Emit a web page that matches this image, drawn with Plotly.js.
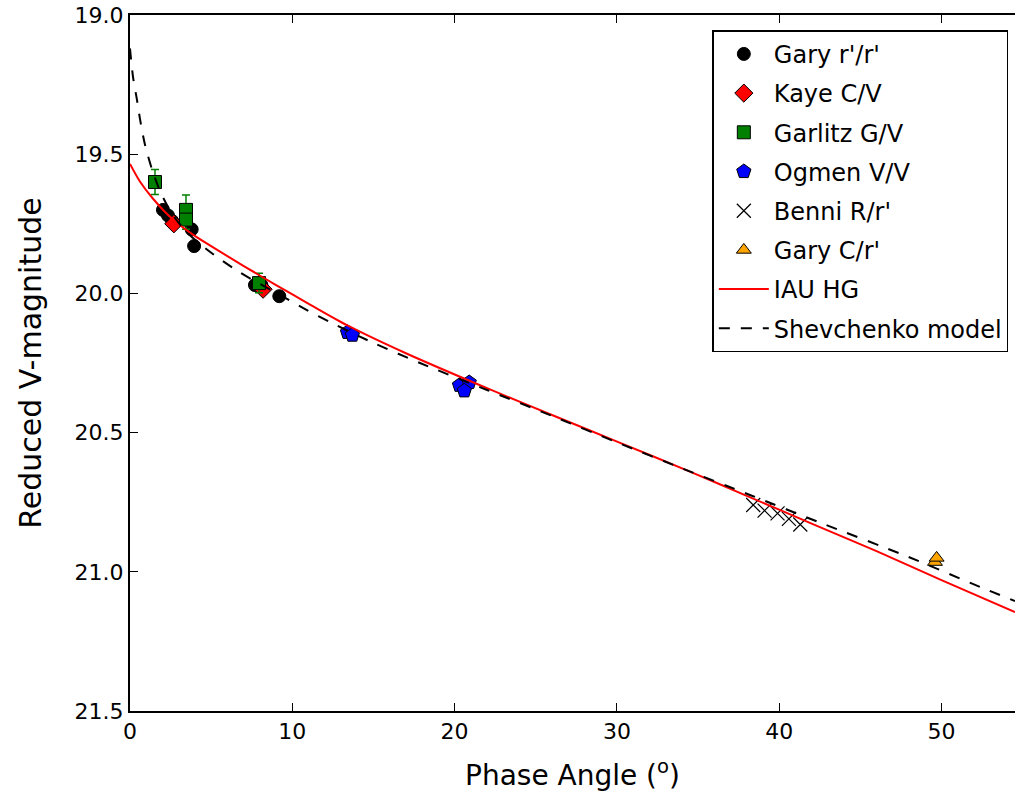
<!DOCTYPE html>
<html>
<head>
<meta charset="utf-8">
<script src="https://cdn.plot.ly/plotly-3.0.1.min.js"></script>
<style>html,body{margin:0;padding:0;background:#fff;}#chart{width:1015px;height:798px;}</style>
</head>
<body>
<div id="chart"></div>
<script>
// Observations
const garyRX = [2.03, 2.34, 2.6, 3.8, 3.95, 7.7, 8.1, 9.2];
const garyRY = [19.70, 19.72, 19.74, 19.77, 19.83, 19.97, 19.97, 20.01];
const kayeX = [2.7, 8.2];
const kayeY = [19.75, 19.985];
const garlitzX = [1.54, 3.45, 3.45, 7.95];
const garlitzY = [19.60, 19.70, 19.735, 19.963];
const garlitzErr = [0.045, 0.053, 0.035, 0.035];
const ogmenX = [13.4, 13.7, 20.3, 20.9, 20.6];
const ogmenY = [20.14, 20.15, 20.33, 20.32, 20.35];
const benniX = [38.4, 39.1, 39.9, 40.6, 41.3];
const benniY = [20.76, 20.78, 20.79, 20.81, 20.83];
const garyCX = [49.6, 49.7];
const garyCY = [20.965, 20.95];
// Model curves
const iauX = [0, 0.6, 1.42, 2.65, 3.9, 5.55, 6.96, 9, 11.09, 13.4, 17, 22.18, 26.3, 30.2, 34.5, 38, 42, 46, 50, 54.53];
const iauY = [19.535, 19.597, 19.66, 19.735, 19.79, 19.85, 19.9, 19.97, 20.04, 20.115, 20.215, 20.345, 20.444, 20.537, 20.64, 20.727, 20.827, 20.926, 21.03, 21.145];
const shevX = [0, 0.18, 0.43, 0.62, 0.92, 1.36, 1.85, 2.6, 3.5, 4.8, 6.78, 9, 10.9, 12.32, 15, 17.87, 22, 26, 30, 34, 38.2, 42.5, 47.9, 52.4, 54.53];
const shevY = [19.12, 19.22, 19.305, 19.375, 19.465, 19.555, 19.632, 19.715, 19.78, 19.845, 19.925, 19.998, 20.06, 20.103, 20.178, 20.25, 20.347, 20.44, 20.535, 20.628, 20.724, 20.823, 20.945, 21.055, 21.105];
const xTicks = [0, 10, 20, 30, 40, 50];
const yTicks = [19.0, 19.5, 20.0, 20.5, 21.0, 21.5];
const yTickText = ['19.0', '19.5', '20.0', '20.5', '21.0', '21.5'];

const edge = {color: '#000', width: 1};
const traces = [
  {x: garyRX, y: garyRY, name: "Gary r'/r'", mode: 'markers', type: 'scatter', legendgroup: 'g1',
   marker: {symbol: 'circle', size: 13, color: '#000', line: edge}},
  {x: kayeX, y: kayeY, name: 'Kaye C/V', mode: 'markers', type: 'scatter', legendgroup: 'g2',
   marker: {symbol: 'diamond', size: 14, color: '#ff0000', line: edge}},
  {x: garlitzX, y: garlitzY, name: 'Garlitz G/V', mode: 'markers', type: 'scatter', legendgroup: 'g3',
   error_y: {type: 'data', array: garlitzErr, visible: true, color: '#008000', thickness: 1.5, width: 4},
   marker: {symbol: 'square', size: 13, color: '#008000', line: edge}},
  {x: ogmenX, y: ogmenY, name: 'Ogmen V/V', mode: 'markers', type: 'scatter', legendgroup: 'g4',
   marker: {symbol: 'pentagon', size: 15, color: '#0000ff', line: edge}},
  {x: benniX, y: benniY, name: "Benni R/r'", mode: 'markers', type: 'scatter', legendgroup: 'g5',
   marker: {symbol: 'x-thin-open', size: 14, color: '#000', line: {color: '#333', width: 1.2}}},
  {x: garyCX, y: garyCY, name: "Gary C/r'", mode: 'markers', type: 'scatter', legendgroup: 'g6',
   marker: {symbol: 'triangle-up', size: 13, color: '#ffa500', line: edge}},
  {x: iauX, y: iauY, name: 'IAU HG', mode: 'lines', type: 'scatter', legendgroup: 'g7',
   line: {color: '#ff0000', width: 2, shape: 'spline', smoothing: 0.8}},
  {x: shevX, y: shevY, name: 'Shevchenko model', mode: 'lines', type: 'scatter', legendgroup: 'g8',
   line: {color: '#000', width: 2, dash: '11px,11px', shape: 'spline', smoothing: 0.8}}
];

const layout = {
  width: 1015, height: 798,
  margin: {l: 130, r: 0, t: 15, b: 87},
  paper_bgcolor: '#fff', plot_bgcolor: '#fff',
  font: {family: 'DejaVu Sans', color: '#000'},
  showlegend: true,
  legend: {x: 0.658, y: 0.978, xanchor: 'left', yanchor: 'top',
    bgcolor: '#fff', bordercolor: '#000', borderwidth: 1.5,
    font: {size: 24, family: 'DejaVu Sans', color: '#000'},
    traceorder: 'grouped', tracegroupgap: 5, itemwidth: 50},
  xaxis: {range: [0, 54.53], tickvals: xTicks, ticktext: xTicks.map(String),
    ticks: 'inside', ticklen: 8, tickwidth: 1.2, tickcolor: '#000',
    showline: true, linecolor: '#000', linewidth: 2, mirror: 'ticks',
    showgrid: false, zeroline: false,
    tickfont: {size: 22, family: 'DejaVu Sans'},
    title: {text: 'Phase Angle (<sup>o</sup>)', font: {size: 28, family: 'DejaVu Sans'}, standoff: 22}},
  yaxis: {range: [21.5, 19.0], tickvals: yTicks, ticktext: yTickText,
    ticks: 'inside', ticklen: 8, tickwidth: 1.2, tickcolor: '#000',
    showline: true, linecolor: '#000', linewidth: 2,
    showgrid: false, zeroline: false,
    tickfont: {size: 22, family: 'DejaVu Sans'},
    title: {text: 'Reduced V-magnitude', font: {size: 30, family: 'DejaVu Sans'}, standoff: 24}}
};

Plotly.newPlot('chart', traces, layout, {displayModeBar: false, staticPlot: true});
</script>
</body>
</html>
